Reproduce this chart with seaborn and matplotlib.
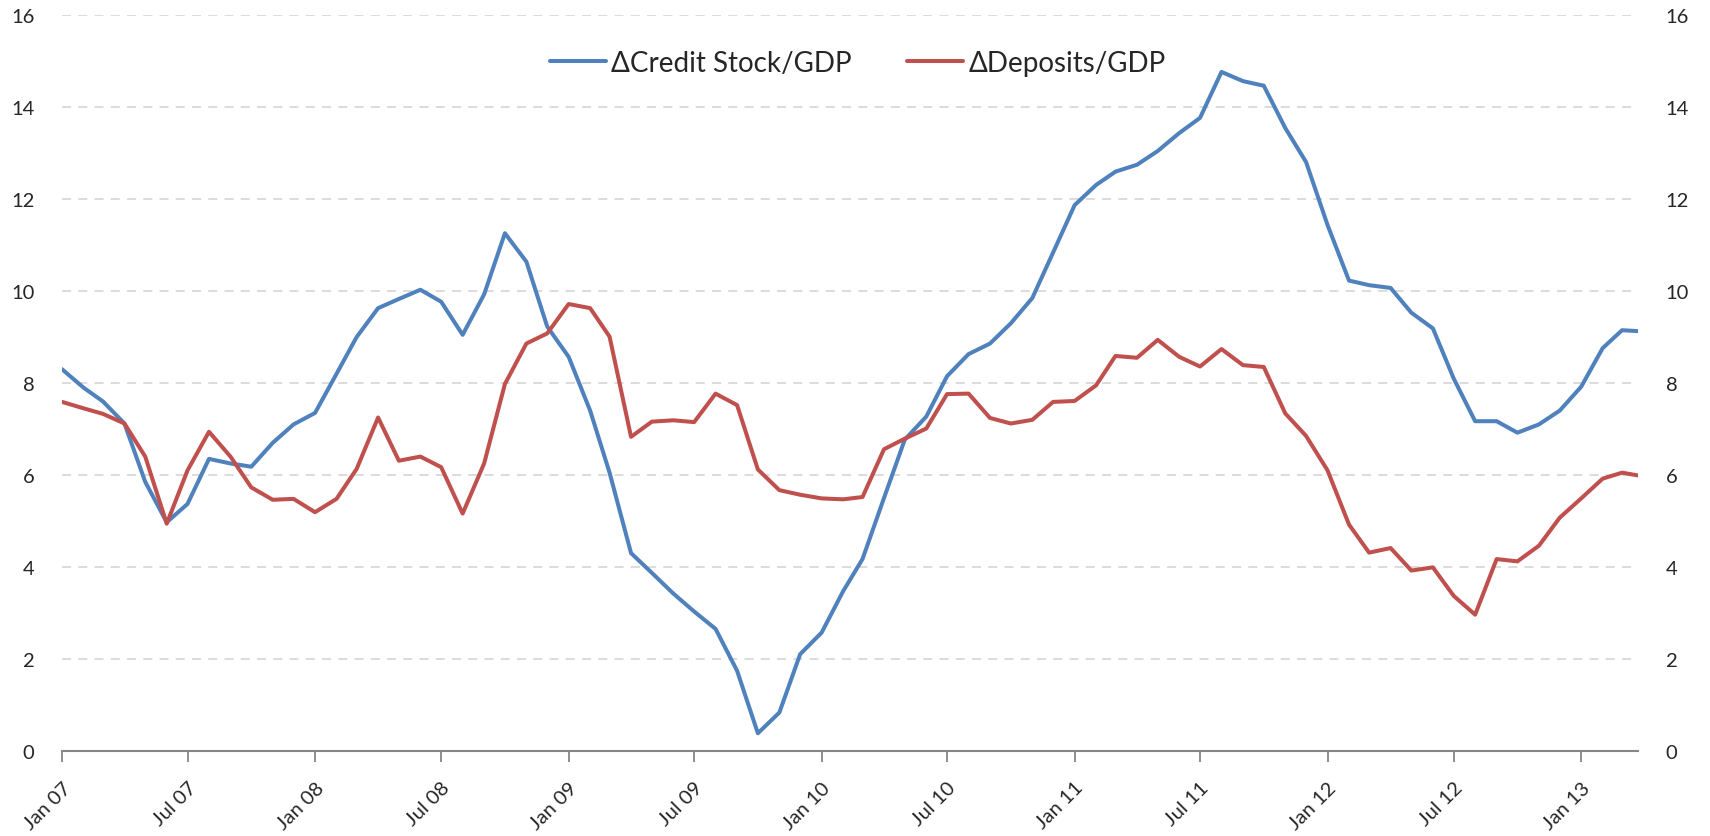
import pandas as pd
import matplotlib
matplotlib.use('Agg')
import matplotlib.pyplot as plt
import seaborn as sns

# monthly observations, Jan 2007 .. Mar 2013, plus a final late-March reading
dates = list(pd.date_range('2007-01-01', '2013-03-01', freq='MS')) + [pd.Timestamp('2013-03-24')]

credit_gdp = [
    8.3, 7.9, 7.6, 7.12, 5.85, 4.97, 5.37, 6.35, 6.25, 6.18, 6.7, 7.1,
    7.35, 8.2, 9.0, 9.63, 9.83, 10.03, 9.77, 9.05, 9.93, 11.26, 10.64, 9.23,
    8.57, 7.4, 6.05, 4.3, 3.87, 3.42, 3.03, 2.65, 1.74, 0.38, 0.83, 2.1,
    2.57, 3.47, 4.17, 5.5, 6.77, 7.27, 8.15, 8.63, 8.86, 9.3, 9.85, 10.84,
    11.87, 12.31, 12.6, 12.75, 13.05, 13.44, 13.77, 14.77, 14.57, 14.47, 13.55, 12.81,
    11.44, 10.23, 10.13, 10.07, 9.53, 9.19, 8.1, 7.17, 7.17, 6.92, 7.1, 7.4,
    7.92, 8.76, 9.15, 9.13,
]
deposits_gdp = [
    7.59, 7.45, 7.33, 7.12, 6.4, 4.94, 6.1, 6.94, 6.4, 5.73, 5.46, 5.48,
    5.19, 5.48, 6.13, 7.25, 6.31, 6.4, 6.17, 5.16, 6.25, 7.98, 8.86, 9.08,
    9.72, 9.63, 9.01, 6.83, 7.16, 7.19, 7.15, 7.77, 7.52, 6.12, 5.67, 5.57,
    5.49, 5.47, 5.52, 6.56, 6.79, 7.01, 7.76, 7.77, 7.24, 7.12, 7.2, 7.59,
    7.61, 7.95, 8.59, 8.55, 8.94, 8.57, 8.36, 8.74, 8.39, 8.35, 7.34, 6.85,
    6.1, 4.92, 4.31, 4.41, 3.92, 3.99, 3.37, 2.96, 4.17, 4.12, 4.46, 5.07,
    5.49, 5.92, 6.05, 5.99,
]

series_names = ['\u0394Credit Stock/GDP', '\u0394Deposits/GDP']
colors = ['#4F81BD', '#C0504D']

df = pd.concat([
    pd.DataFrame({'date': dates, 'value': credit_gdp, 'series': series_names[0]}),
    pd.DataFrame({'date': dates, 'value': deposits_gdp, 'series': series_names[1]}),
])

sns.set_theme(style='white')
plt.rcParams['font.family'] = ['Lato', 'DejaVu Sans']

fig = plt.figure(figsize=(17.1, 8.37), dpi=100)
ax = fig.add_axes([0.0363, 0.1019, 0.9216, 0.8785])

sns.lineplot(data=df, x='date', y='value', hue='series', palette=colors,
             linewidth=2.9, ax=ax)

ax.set_ylim(0, 16)
ax.set_yticks(range(0, 17, 2))
ax.set_xlim(dates[0], dates[-1])
ax.set_xlabel('')
ax.set_ylabel('')

# dashed light horizontal gridlines
ax.yaxis.grid(True, linestyle=(0, (5, 4)), color='#d9d9d9', linewidth=1.3)
ax.set_axisbelow(True)

tick_dates = pd.date_range('2007-01-01', '2013-01-01', freq='6MS')
ax.set_xticks(tick_dates)
ax.set_xticklabels([d.strftime('%b %y') for d in tick_dates], rotation=45,
                   ha='right', rotation_mode='anchor')
ax.tick_params(axis='x', length=8, width=1.3, color='#868686', direction='out',
               labelsize=14.5, pad=12, bottom=True)
ax.tick_params(axis='y', length=0, labelsize=14.5, pad=20, labelright=True)

for side in ['top', 'left', 'right']:
    ax.spines[side].set_visible(False)
ax.spines['bottom'].set_color('#868686')
ax.spines['bottom'].set_linewidth(1.5)

ax.legend(loc='center', bbox_to_anchor=(0.505, 0.935), ncol=2, frameon=False,
          fontsize=20, handlelength=2.0, columnspacing=2.0, handletextpad=0.2)

plt.savefig('out.png', dpi=100)
plt.close()
